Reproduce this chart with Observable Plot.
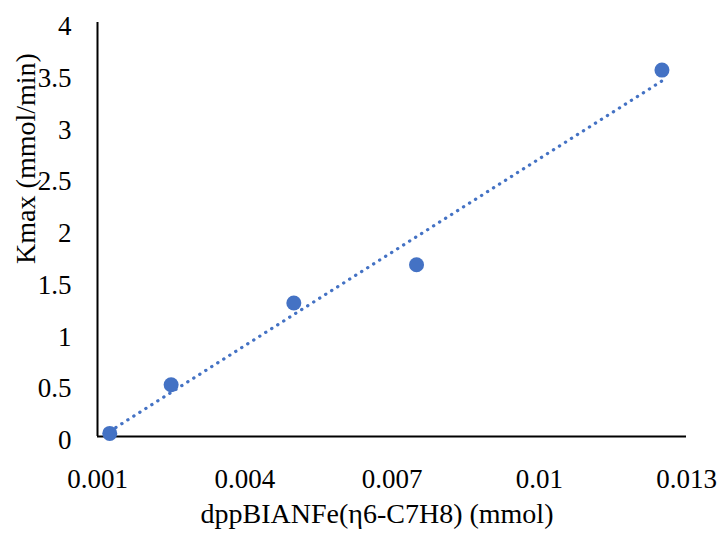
<!DOCTYPE html>
<html>
<head>
<meta charset="utf-8">
<script src="https://cdn.jsdelivr.net/npm/d3@7"></script>
<script src="https://cdn.jsdelivr.net/npm/@observablehq/plot@0.6"></script>
<style>
  html, body { margin: 0; padding: 0; background: #fff; }
</style>
</head>
<body>
<div id="chart"></div>
<script>
const concentrations = [0.00125, 0.0025, 0.005, 0.0075, 0.0125];
const kmaxValues = [0.03, 0.50, 1.29, 1.66, 3.54];
const xTicks = [0.001, 0.004, 0.007, 0.01, 0.013];
const yTicks = [0, 0.5, 1, 1.5, 2, 2.5, 3, 3.5, 4];
const xTitle = "dppBIANFe(η6-C7H8) (mmol)";
const yTitle = "Kmax (mmol/min)";

const data = concentrations.map((c, i) => ({x: c, y: kmaxValues[i]}));
const blue = "#4472C4";
const font = "'Liberation Serif', 'Times New Roman', serif";

const chart = Plot.plot({
  width: 722,
  height: 543,
  marginLeft: 97,
  marginRight: 36,
  marginTop: 22,
  marginBottom: 107,
  style: {fontFamily: font, fontSize: "27px", background: "#fff", color: "#000"},
  x: {domain: [0.001, 0.013], ticks: xTicks, tickFormat: d => String(+d.toFixed(3)), tickSize: 0, tickPadding: 32, label: null},
  y: {domain: [0, 4], ticks: yTicks, tickFormat: d => String(d), tickSize: 0, tickPadding: 26, label: null},
  marks: [
    Plot.axisY({ticks: yTicks, tickFormat: d => String(d), tickSize: 0, tickPadding: 26, dy: 4, label: null, fontSize: 27}),
    Plot.axisX({ticks: xTicks, tickFormat: d => String(+d.toFixed(3)), tickSize: 0, tickPadding: 32, label: null, fontSize: 27}),
    Plot.ruleY([0], {stroke: "#000", strokeWidth: 2}),
    Plot.ruleX([0.001], {stroke: "#000", strokeWidth: 2}),
    Plot.linearRegressionY(data, {x: "x", y: "y", ci: 0, stroke: blue, strokeWidth: 3.2, strokeLinecap: "round", strokeDasharray: "0.3,6.8"}),
    Plot.dot(data, {x: "x", y: "y", r: 7.5, fill: blue, stroke: "none"}),
    Plot.text([xTitle], {frameAnchor: "bottom", textAnchor: "middle", lineAnchor: "middle", dx: -15, dy: 78, fontSize: 28, fill: "#000"}),
    Plot.text([yTitle], {frameAnchor: "left", textAnchor: "middle", lineAnchor: "middle", rotate: -90, dx: -71, dy: -71, fontSize: 28, fill: "#000"})
  ]
});
document.getElementById("chart").appendChild(chart);
</script>
</body>
</html>
